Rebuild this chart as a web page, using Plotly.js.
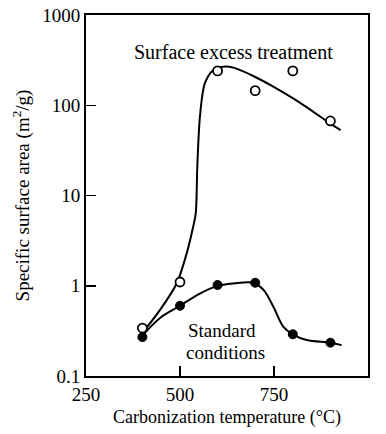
<!DOCTYPE html>
<html><head><meta charset="utf-8">
<script src="https://cdn.plot.ly/plotly-3.0.1.min.js"></script>
<style>html,body{margin:0;padding:0;background:#fff}#chart{width:386px;height:434px}</style>
</head><body><div id="chart"></div>
<script>
// Measured points
const tempPoints = [400, 500, 600, 700, 800, 900];
const surfaceExcess = [0.34, 1.1, 240, 145, 240, 67];
const standardCond = [0.27, 0.6, 1.02, 1.08, 0.29, 0.234];

// Hand-drawn fitted curves
const excessCurveT = [400, 447, 491, 518, 535, 542, 546, 553, 566, 589, 615, 642, 695, 748, 801, 854, 899, 927];
const excessCurveV = [0.30, 0.54, 1.06, 2.3, 4.5, 6.4, 21, 75, 175, 246, 267, 261, 211, 161, 119, 85, 63, 53];
const stdCurveT = [400, 447, 500, 553, 598, 642, 695, 722, 748, 775, 800, 837, 900, 930];
const stdCurveV = [0.28, 0.44, 0.60, 0.82, 0.99, 1.06, 1.08, 0.90, 0.59, 0.35, 0.29, 0.25, 0.234, 0.22];

const xTicks = [250, 500, 750, 1000];
const yTickVals = [0.1, 1, 10, 100, 1000];
const yTickText = ['0.1', '1', '10', '100', '1000'];

const FONT = 'Liberation Serif, Times New Roman, serif';
const traces = [
  {x: excessCurveT, y: excessCurveV, mode: 'lines', line: {color: '#000', width: 2, shape: 'spline', smoothing: 0.8}, hoverinfo: 'skip'},
  {x: stdCurveT, y: stdCurveV, mode: 'lines', line: {color: '#000', width: 2, shape: 'spline', smoothing: 1}, hoverinfo: 'skip'},
  {x: tempPoints, y: surfaceExcess, mode: 'markers', marker: {symbol: 'circle', size: 9, color: '#fff', line: {color: '#000', width: 1.8}}},
  {x: tempPoints, y: standardCond, mode: 'markers', marker: {symbol: 'circle', size: 9, color: '#000', line: {color: '#000', width: 1}}}
];
const layout = {
  width: 386, height: 434,
  margin: {l: 86, r: 18, t: 15, b: 58},
  showlegend: false,
  paper_bgcolor: '#fff', plot_bgcolor: '#fff',
  font: {family: FONT, size: 19, color: '#000'},
  xaxis: {
    range: [250, 1000], tickvals: xTicks, ticktext: xTicks.map(String),
    ticks: 'inside', ticklen: 10, tickwidth: 1.5, tickcolor: '#000',
    tickfont: {family: FONT, size: 19},
    showline: true, linewidth: 2, linecolor: '#000', mirror: true,
    showgrid: false, zeroline: false,
    title: {text: 'Carbonization temperature (°C)', font: {family: FONT, size: 18}, standoff: 7}
  },
  yaxis: {
    type: 'log', range: [-1, 3], tickvals: yTickVals, ticktext: yTickText,
    ticks: 'inside', ticklen: 10, tickwidth: 1.5, tickcolor: '#000',
    tickfont: {family: FONT, size: 19},
    showline: true, linewidth: 2, linecolor: '#000', mirror: true,
    showgrid: false, zeroline: false,
    title: {text: 'Specific surface area (m<sup>2</sup>/g)', font: {family: FONT, size: 19}, standoff: 8}
  },
  annotations: [
    {x: 642, y: Math.log10(390), xref: 'x', yref: 'y', text: 'Surface excess treatment', showarrow: false, font: {family: FONT, size: 20}},
    {x: 612, y: Math.log10(0.32), xref: 'x', yref: 'y', text: 'Standard', showarrow: false, font: {family: FONT, size: 19}},
    {x: 621, y: Math.log10(0.18), xref: 'x', yref: 'y', text: 'conditions', showarrow: false, font: {family: FONT, size: 19}}
  ]
};
Plotly.newPlot('chart', traces, layout, {staticPlot: true, displayModeBar: false});
</script></body></html>
